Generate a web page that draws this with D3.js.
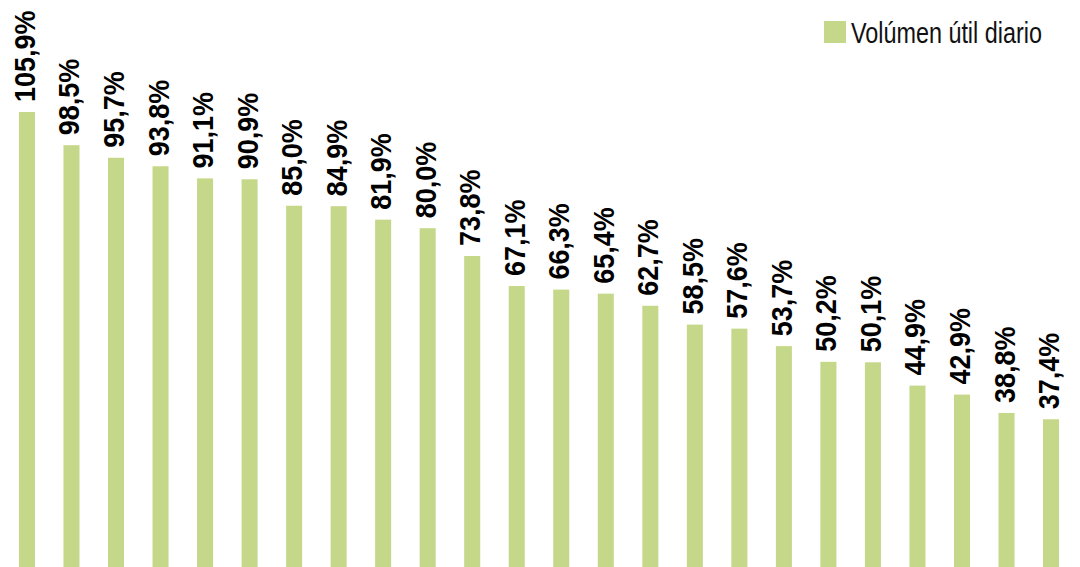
<!DOCTYPE html>
<html>
<head>
<meta charset="utf-8">
<script src="https://cdn.jsdelivr.net/npm/d3@7"></script>
<style>
  html, body { margin: 0; padding: 0; background: #fff; }
  svg { display: block; }
</style>
</head>
<body>
<svg id="chart" width="1080" height="567"></svg>
<script>
const categories = d3.range(1, 25).map(i => "C" + i);
const values = [105.9, 98.5, 95.7, 93.8, 91.1, 90.9, 85.0, 84.9, 81.9, 80.0, 73.8, 67.1,
                66.3, 65.4, 62.7, 58.5, 57.6, 53.7, 50.2, 50.1, 44.9, 42.9, 38.8, 37.4];
const seriesName = "Volúmen útil diario";
const barColor = "#c5d88a";

const W = 1080, H = 567;
const svg = d3.select("#chart");

const x = d3.scaleBand()
  .domain(categories)
  .range([4.7, 1073.3])
  .paddingInner(0.64)
  .paddingOuter(0.32);

const y = d3.scaleLinear()
  .domain([0, 105.9])
  .range([587, 112]);

const data = categories.map((c, i) => ({ c, v: values[i] }));

svg.append("g").selectAll("rect")
  .data(data)
  .join("rect")
  .attr("x", d => x(d.c))
  .attr("width", x.bandwidth())
  .attr("y", d => y(d.v))
  .attr("height", d => Math.min(y(0), H) - y(d.v))
  .attr("fill", barColor);

const fmt = v => v.toFixed(1).replace(".", ",") + "%";

svg.append("g").selectAll("text")
  .data(data)
  .join("text")
  .attr("transform", d => `translate(${x(d.c) + x.bandwidth() / 2 + 8},${y(d.v) - 10}) rotate(-90) scale(0.93,1)`)
  .attr("text-anchor", "start")
  .attr("font-family", "'Liberation Sans', Arial, sans-serif")
  .attr("font-weight", "bold")
  .attr("font-size", 29)
  .attr("fill", "#000")
  .text(d => fmt(d.v));

// legend
const lg = svg.append("g");
lg.append("rect")
  .attr("x", 824).attr("y", 21)
  .attr("width", 22).attr("height", 22)
  .attr("fill", barColor);
const lt = lg.append("text")
  .attr("x", 0).attr("y", 0)
  .attr("font-family", "'Liberation Sans', Arial, sans-serif")
  .attr("font-size", 30)
  .attr("fill", "#111")
  .text(seriesName);
const tw = lt.node().getComputedTextLength();
const sx = 191 / tw;
lt.attr("transform", `translate(851,43) scale(${sx},1)`);
</script>
</body>
</html>
